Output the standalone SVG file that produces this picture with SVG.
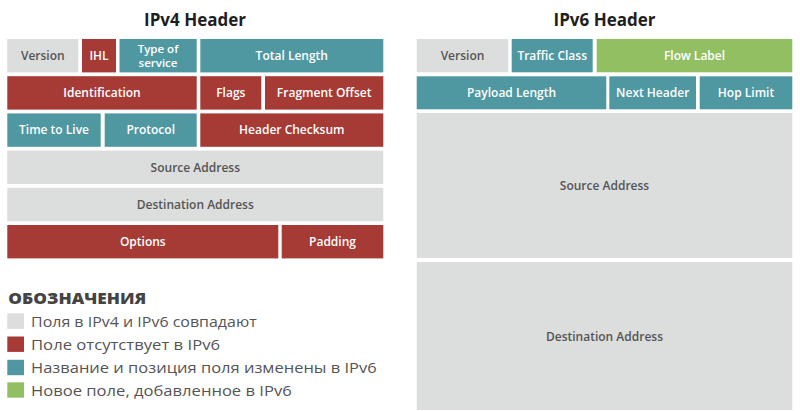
<svg xmlns="http://www.w3.org/2000/svg" width="800" height="411" viewBox="0 0 800 411">
<style>
.g{fill:#dcdddd}
.r{fill:#a63a35}
.t{fill:#4f98a2}
.n{fill:#93bf63}
.lb{font-family:"Open Sans","Noto Sans",sans-serif;font-size:12px;font-weight:600;text-anchor:middle;fill:#ffffff}
.sm{font-size:11.5px}
.dk{fill:#555555}
.ttl{font-family:"Open Sans","Noto Sans",sans-serif;font-size:17px;font-weight:700;text-anchor:middle;fill:#1e1e1e}
.lg{font-family:"Open Sans","Noto Sans",sans-serif;font-size:15px;fill:#555555}
.lgh{font-family:"Open Sans","Noto Sans",sans-serif;font-size:16px;font-weight:800;fill:#444444}
</style>
<rect width="800" height="411" fill="#ffffff"/>
<g id="titles">
<text class="ttl" x="195" y="26">IPv4 Header</text>
<text class="ttl" x="604.5" y="26">IPv6 Header</text>
</g>
<g id="ipv4">
<g id="v4-version"><rect class="g" x="7.3" y="39" width="71" height="33.4"/><text class="lb dk" x="42.8" y="60">Version</text></g>
<g id="v4-ihl"><rect class="r" x="82" y="39" width="34" height="33.4"/><text class="lb" x="99" y="60">IHL</text></g>
<g id="v4-tos"><rect class="t" x="119.5" y="39" width="77.2" height="33.4"/><text class="lb sm" x="158" y="52.5">Type of</text><text class="lb sm" x="158" y="66.8">service</text></g>
<g id="v4-totlen"><rect class="t" x="200.3" y="39" width="183" height="33.4"/><text class="lb" x="291.8" y="60">Total Length</text></g>
<g id="v4-ident"><rect class="r" x="7.3" y="76.2" width="189.4" height="33.4"/><text class="lb" x="102" y="97.2">Identification</text></g>
<g id="v4-flags"><rect class="r" x="200.3" y="76.2" width="61" height="33.4"/><text class="lb" x="230.8" y="97.2">Flags</text></g>
<g id="v4-frag"><rect class="r" x="265" y="76.2" width="118.3" height="33.4"/><text class="lb" x="324.2" y="97.2">Fragment Offset</text></g>
<g id="v4-ttl"><rect class="t" x="7.3" y="113.4" width="93.4" height="33.4"/><text class="lb" x="54" y="134.4">Time to Live</text></g>
<g id="v4-proto"><rect class="t" x="104.7" y="113.4" width="92" height="33.4"/><text class="lb" x="150.7" y="134.4">Protocol</text></g>
<g id="v4-cksum"><rect class="r" x="200.3" y="113.4" width="183" height="33.4"/><text class="lb" x="291.8" y="134.4">Header Checksum</text></g>
<g id="v4-src"><rect class="g" x="7.3" y="150.6" width="376" height="33.4"/><text class="lb dk" x="195.3" y="171.6">Source Address</text></g>
<g id="v4-dst"><rect class="g" x="7.3" y="187.8" width="376" height="33.4"/><text class="lb dk" x="195.3" y="208.8">Destination Address</text></g>
<g id="v4-opt"><rect class="r" x="7.3" y="225" width="271" height="33.4"/><text class="lb" x="142.8" y="246">Options</text></g>
<g id="v4-pad"><rect class="r" x="281.7" y="225" width="101.6" height="33.4"/><text class="lb" x="332.5" y="246">Padding</text></g>
</g>
<g id="ipv6">
<g id="v6-version"><rect class="g" x="416.7" y="39" width="91.6" height="33.3"/><text class="lb dk" x="462.5" y="60">Version</text></g>
<g id="v6-tc"><rect class="t" x="511.7" y="39" width="81" height="33.3"/><text class="lb" x="552.2" y="60">Traffic Class</text></g>
<g id="v6-flow"><rect class="n" x="596.7" y="39" width="195.6" height="33.3"/><text class="lb" x="694.5" y="60">Flow Label</text></g>
<g id="v6-plen"><rect class="t" x="416.7" y="76.3" width="189.6" height="33"/><text class="lb" x="511.5" y="97">Payload Length</text></g>
<g id="v6-nh"><rect class="t" x="609.3" y="76.3" width="86.7" height="33"/><text class="lb" x="652.7" y="97">Next Header</text></g>
<g id="v6-hop"><rect class="t" x="699.7" y="76.3" width="92.6" height="33"/><text class="lb" x="746" y="97">Hop Limit</text></g>
<g id="v6-src"><rect class="g" x="416.7" y="113" width="375.6" height="145"/><text class="lb dk" x="604.5" y="190">Source Address</text></g>
<g id="v6-dst"><rect class="g" x="416.7" y="262" width="375.6" height="148"/><text class="lb dk" x="604.5" y="341">Destination Address</text></g>
</g>
<g id="legend">
<text class="lgh" x="8.3" y="303.5" textLength="138" lengthAdjust="spacingAndGlyphs">ОБОЗНАЧЕНИЯ</text>
<rect class="g" x="7.3" y="313.3" width="16.7" height="15.6"/>
<text class="lg" x="31" y="326.7" textLength="225.7" lengthAdjust="spacingAndGlyphs">Поля в IPv4 и IPv6 совпадают</text>
<rect class="r" x="7.3" y="336.5" width="16.7" height="15.4"/>
<text class="lg" x="31" y="350" textLength="189" lengthAdjust="spacingAndGlyphs">Поле отсутствует в IPv6</text>
<rect class="t" x="7.3" y="359.8" width="16.7" height="15.4"/>
<text class="lg" x="31" y="373.3" textLength="345.7" lengthAdjust="spacingAndGlyphs">Название и позиция поля изменены в IPv6</text>
<rect class="n" x="7.3" y="382.3" width="16.7" height="15.4"/>
<text class="lg" x="31" y="396" textLength="260.7" lengthAdjust="spacingAndGlyphs">Новое поле, добавленное в IPv6</text>
</g>
</svg>
